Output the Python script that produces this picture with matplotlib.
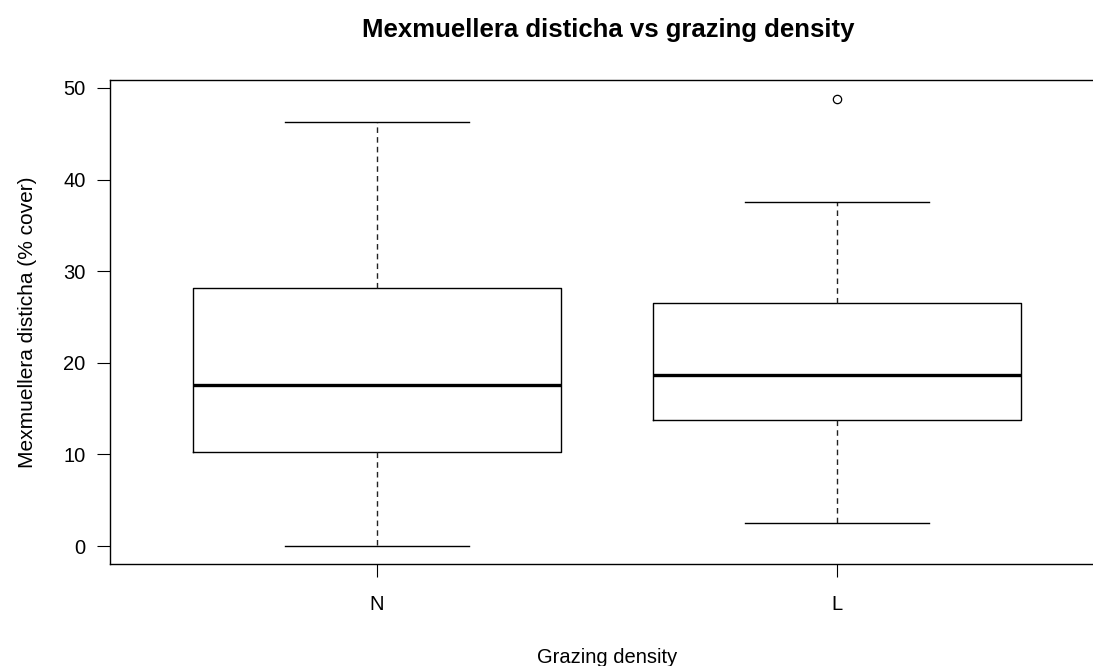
import matplotlib
matplotlib.use("Agg")
import matplotlib.pyplot as plt

plt.rcParams['font.family'] = ['Liberation Sans', 'DejaVu Sans']

# boxplot statistics
groups = ["N", "L"]
whisker_low = [0.0, 2.5]
q1 = [10.3, 13.8]
median = [17.6, 18.7]
q3 = [28.2, 26.5]
whisker_high = [46.3, 37.6]
outliers = [[], [48.8]]

stats = []
for i in range(len(groups)):
    stats.append({
        "label": groups[i],
        "whislo": whisker_low[i],
        "q1": q1[i],
        "med": median[i],
        "q3": q3[i],
        "whishi": whisker_high[i],
        "fliers": outliers[i],
    })

fig = plt.figure(figsize=(10.93, 6.66), dpi=100)
# right part of the plot region is cut off in the original, so the axes runs past the figure
ax = fig.add_axes([110/1093, 1 - 564/666, 993.6/1093, (564 - 80)/666])

ax.bxp(stats, positions=[1, 2], widths=0.8, showfliers=True,
       boxprops=dict(color="black", linewidth=1.0),
       medianprops=dict(color="black", linewidth=2.4),
       whiskerprops=dict(color="#222222", linewidth=1.0, linestyle=(0, (4, 3))),
       capprops=dict(color="black", linewidth=1.0),
       capwidths=0.4,
       flierprops=dict(marker="o", markerfacecolor="none", markeredgecolor="black",
                       markersize=6, markeredgewidth=0.9))

ax.set_xlim(0.42, 2.58)
ax.set_ylim(-1.95, 50.87)
ax.set_yticks([0, 10, 20, 30, 40, 50])
ax.set_xticks([1, 2])
ax.set_xticklabels(groups)

ax.tick_params(axis="both", direction="out", length=9.5, width=0.8, labelsize=14.5, colors="black")
ax.tick_params(axis="y", pad=8)
ax.tick_params(axis="x", pad=13)
for s in ax.spines.values():
    s.set_linewidth(1.0)

ax.set_xlabel("Grazing density", fontsize=14.5, labelpad=24)
ax.set_ylabel("Mexmuellera disticha (% cover)", fontsize=15, labelpad=19)
fig.text(608/1093, 1 - 30/666, "Mexmuellera disticha vs grazing density",
         ha="center", va="center", fontsize=18.5, fontweight="bold")

fig.savefig("out.png", dpi=100)
